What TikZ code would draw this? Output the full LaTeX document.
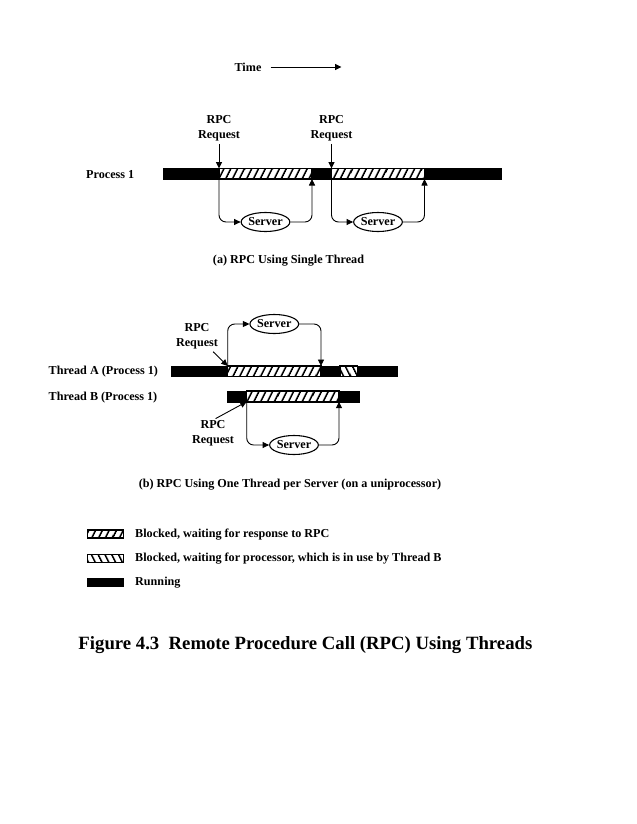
\documentclass[tikz,border=0pt]{standalone}
\usepackage{fontspec}
\setmainfont{Liberation Serif}
\usetikzlibrary{arrows.meta,shapes.geometric,patterns.meta}
\tikzset{
  lbl/.style={font=\fontsize{12.2}{15}\selectfont\bfseries, inner sep=0pt, align=center},
  srv/.style={lbl, ellipse, draw, line width=1.1bp, minimum width=46bp, minimum height=19bp},
  conn/.style={line width=0.9bp, rounded corners=7bp},
  tip/.style={-{Triangle[length=6.5bp,width=6bp]}},
  run/.style={fill=black},
  waitrpc/.style={draw=black, line width=1.1bp, preaction={fill=white},
    pattern={Lines[angle=63,distance=6bp,line width=2bp]}},
  waitcpu/.style={draw=black, line width=1.1bp, preaction={fill=white},
    pattern={Lines[angle=-63,distance=6bp,line width=2bp]}}
}
\begin{document}
\begin{tikzpicture}[x=1bp,y=-1bp]
    \useasboundingbox (0,0) rectangle (637,824);
    % time axis
    \node[lbl] (time) at (248,67) {Time};
    \coordinate (tend) at (341.5,67);
    \draw[conn,tip,shorten <=9bp] (time.east) -- (tend);
    % (a) single thread
    \node[lbl,anchor=west] (proc) at (86,175) {Process 1};
    \draw[run] (163,168.5) rectangle (501,179);
    \foreach \i/\s/\e in {1/219/312,2/331.5/424.5}{
        \draw[waitrpc] (\s,168.5) rectangle (\e,179);
        \node[lbl] (req\i) at (\s,128) {RPC\\Request};
        \node[srv] (srv\i) at ({(\s+\e)/2},222) {Server};
        \coordinate (in\i) at (\s,168.5);
        \coordinate (go\i) at (\s,179);
        \coordinate (back\i) at (\e,179);
        \draw[conn,tip,shorten <=3bp] (req\i) -- (in\i);
        \draw[conn,tip] (go\i) |- (srv\i);
        \draw[conn,tip] (srv\i) -| (back\i);
    }
    \node[lbl] (capa) at (288.5,261) {(a) RPC Using Single Thread};
    % (b) one thread per server
    \node[lbl,anchor=west] (thra) at (48.5,371.5) {Thread A (Process 1)};
    \node[lbl,anchor=west] (thrb) at (48.5,398) {Thread B (Process 1)};
    \draw[run] (171,366) rectangle (397,376.5);
    \draw[waitrpc] (227.7,366) rectangle (321,376.5);
    \draw[waitcpu] (340,366) rectangle (357.3,376.5);
    \draw[run] (226.7,391) rectangle (359,401.7);
    \draw[waitrpc] (246.7,391) rectangle (339,401.7);
    \coordinate (ina) at (227.7,366);
    \coordinate (backa) at (321,366);
    \coordinate (inb) at (246.7,401.7);
    \coordinate (backb) at (339,401.7);
    \node[lbl] (reqa) at (197,336) {RPC\\Request};
    \node[srv] (srva) at (274.3,324) {Server};
    \draw[conn,tip,shorten <=4bp] (reqa) -- (ina);
    \draw[conn,tip] (ina) |- (srva);
    \draw[conn,tip] (srva) -| (backa);
    \node[lbl] (reqb) at (213,433) {RPC\\Request};
    \node[srv] (srvb) at (294,445) {Server};
    \draw[conn,tip,shorten <=3bp] (reqb.north) -- (inb);
    \draw[conn,tip] (inb) |- (srvb);
    \draw[conn,tip] (srvb) -| (backb);
    \node[lbl] (capb) at (290,485) {(b) RPC Using One Thread per Server (on a uniprocessor)};
    % legend
    \foreach \y/\st/\t in {534/waitrpc/{Blocked, waiting for response to RPC},
        558.3/waitcpu/{Blocked, waiting for processor, which is in use by Thread B},
        581.7/run/Running}{
        \draw[\st] (87.3,\y-4) rectangle (123.3,\y+4);
        \node[lbl,anchor=west] at (135,\y+0.5) {\t};
    }
    \node[lbl,font=\fontsize{18.8}{20}\selectfont\bfseries,anchor=west] (title) at (78.3,645.5)
        {Figure 4.3\hspace{0.5em}Remote Procedure Call (RPC) Using Threads};
\end{tikzpicture}
\end{document}
